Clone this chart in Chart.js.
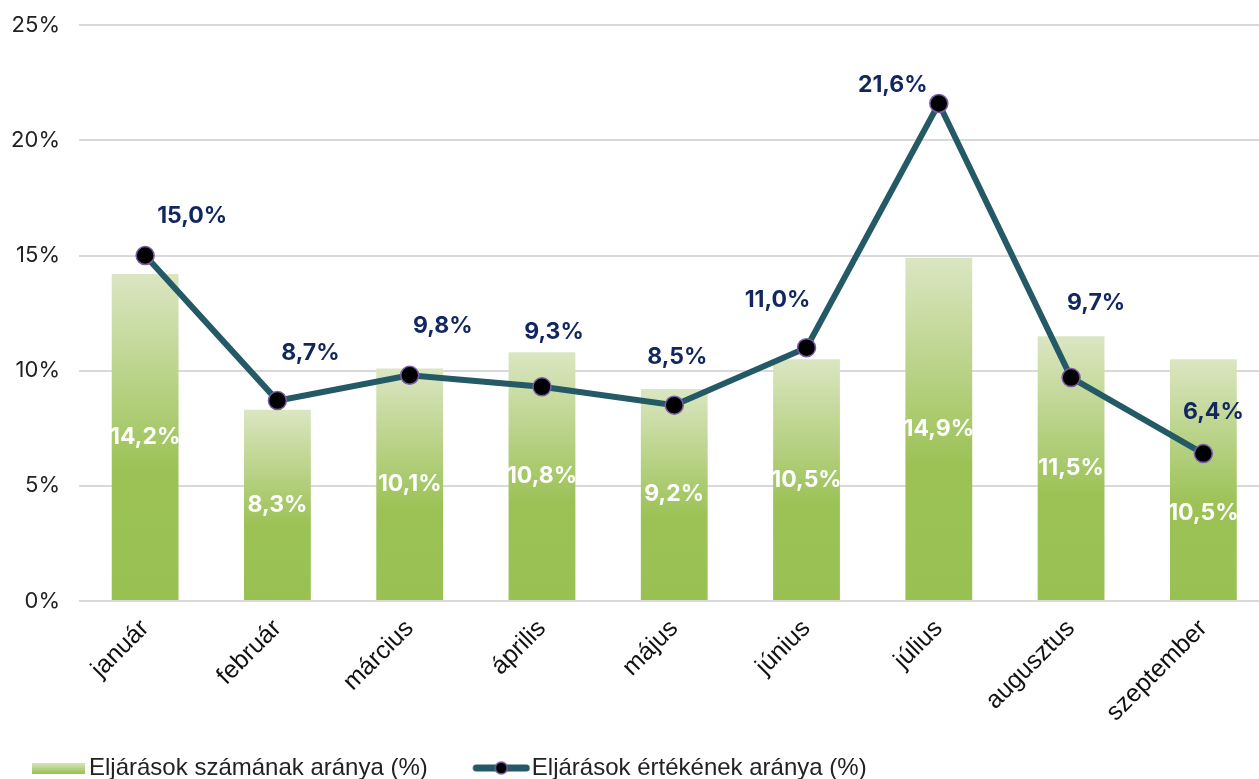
<!DOCTYPE html>
<html>
<head>
<meta charset="utf-8">
<script src="https://cdn.jsdelivr.net/npm/chart.js@4.4.0/dist/chart.umd.min.js"></script>
<style>
  html, body { margin: 0; padding: 0; background: #fff; overflow: hidden; }
  #wrap { width: 1280px; height: 786px; margin-top: -7px; }
</style>
</head>
<body>
<div id="wrap"><canvas id="c_chart"></canvas></div>
<script>
// chart data
const months = ['január', 'február', 'március', 'április', 'május', 'június', 'július', 'augusztus', 'szeptember'];
const countShare = [14.2, 8.3, 10.1, 10.8, 9.2, 10.5, 14.9, 11.5, 10.5];
const valueShare = [15.0, 8.7, 9.8, 9.3, 8.5, 11.0, 21.6, 9.7, 6.4];
const yTicks = [0, 5, 10, 15, 20, 25];
const seriesNames = ['Eljárások számának aránya (%)', 'Eljárások értékének aránya (%)'];

// label offsets (px) for the line values, hand placed like in the original
const lineLabelOffsets = [[47, -39], [33, -48], [33, -49], [12, -55], [3, -48], [-29, -48], [-46, -18], [25, -75], [10, -42]];
const barLabelShift = [0, 0, 0, 0, 0, 0, 0, 0, 33];

const GREEN_TOP = '#dbe6c2';
const GREEN_MID = '#9cc256';
const GREEN_BOT = '#99c152';
const LINE_COLOR = '#245a66';
const POINT_BORDER = '#7b5ea7';
const LABEL_NAVY = '#12275f';

function fmt(v) {
  return v.toFixed(1).replace('.', ',') + '%';
}

function barGradient(context) {
  let chart = context.chart;
  if (!chart.chartArea) return GREEN_BOT;
  let y = chart.scales.y;
  let top = y.getPixelForValue(context.raw);
  let base = y.getPixelForValue(0);
  let g = chart.ctx.createLinearGradient(0, top, 0, base);
  g.addColorStop(0, GREEN_TOP);
  g.addColorStop(0.6, GREEN_MID);
  g.addColorStop(1, GREEN_BOT);
  return g;
}

// legend symbols
function barSymbol() {
  let c = document.createElement('canvas');
  c.width = 61; c.height = 11;
  let ctx = c.getContext('2d');
  let g = ctx.createLinearGradient(0, 0, 0, 11);
  g.addColorStop(0, GREEN_TOP);
  g.addColorStop(1, GREEN_BOT);
  ctx.fillStyle = g;
  ctx.fillRect(8, 0, 53, 11);
  return c;
}

function lineSymbol() {
  let c = document.createElement('canvas');
  c.width = 66; c.height = 16;
  let ctx = c.getContext('2d');
  ctx.strokeStyle = LINE_COLOR;
  ctx.lineWidth = 7;
  ctx.lineCap = 'round';
  ctx.beginPath();
  ctx.moveTo(12, 8);
  ctx.lineTo(62, 8);
  ctx.stroke();
  ctx.beginPath();
  ctx.arc(37, 8, 6, 0, Math.PI * 2);
  ctx.fillStyle = '#000';
  ctx.fill();
  ctx.lineWidth = 1.5;
  ctx.strokeStyle = POINT_BORDER;
  ctx.stroke();
  return c;
}

const legendSymbols = [barSymbol(), lineSymbol()];

const valueLabels = {
  id: 'valueLabels',
  afterLayout(chart) {
    // legend padding is also the gap between items, pull the row back left
    chart.legend.left -= 15;
    chart.legend.right -= 15;
    // let the rotated month names hang below the axis box
    chart.scales.x.bottom += 40;
  },
  afterDatasetDraw(chart, args) {
    if (args.index !== 0) return;
    let ctx = chart.ctx;
    ctx.save();
    ctx.font = 'bold 23px Inter';
    ctx.fillStyle = '#ffffff';
    ctx.textAlign = 'center';
    ctx.textBaseline = 'middle';
    args.meta.data.forEach((bar, i) => {
      let mid = (bar.y + bar.base) / 2 + barLabelShift[i];
      ctx.fillText(fmt(countShare[i]), bar.x, mid);
    });
    ctx.restore();
  },
  afterDatasetsDraw(chart) {
    let meta = chart.getDatasetMeta(1);
    let ctx = chart.ctx;
    ctx.save();
    ctx.font = 'bold 23px Inter';
    ctx.fillStyle = LABEL_NAVY;
    ctx.textAlign = 'center';
    ctx.textBaseline = 'middle';
    meta.data.forEach((pt, i) => {
      let off = lineLabelOffsets[i];
      ctx.fillText(fmt(valueShare[i]), pt.x + off[0], pt.y + off[1]);
    });
    ctx.restore();
  }
};

let ctx = document.getElementById('c_chart').getContext('2d');

new Chart(ctx, {
  data: {
    labels: months,
    datasets: [{
      type: 'bar',
      label: seriesNames[0],
      data: countShare,
      backgroundColor: barGradient,
      borderWidth: 0,
      barPercentage: 0.505,
      categoryPercentage: 1,
      order: 2
    }, {
      type: 'line',
      label: seriesNames[1],
      data: valueShare,
      borderColor: LINE_COLOR,
      borderWidth: 6,
      tension: 0,
      pointRadius: 9,
      pointBackgroundColor: '#000000',
      pointBorderColor: POINT_BORDER,
      pointBorderWidth: 1.5,
      order: 1
    }]
  },
  options: {
    responsive: true,
    maintainAspectRatio: false,
    animation: false,
    layout: { padding: { top: 5, right: 0, left: 0, bottom: -11 } },
    plugins: {
      tooltip: { enabled: false },
      legend: {
        position: 'bottom',
        align: 'start',
        labels: {
          usePointStyle: true,
          pointStyleWidth: 45,
          padding: 47,
          color: '#222',
          font: { family: 'Liberation Sans', size: 24 },
          sort: (a, b) => a.datasetIndex - b.datasetIndex,
          generateLabels(chart) {
            let items = Chart.defaults.plugins.legend.labels.generateLabels(chart);
            items.forEach(it => { it.pointStyle = legendSymbols[it.datasetIndex]; });
            return items;
          }
        }
      }
    },
    scales: {
      x: {
        grid: { display: false },
        border: { display: false },
        ticks: {
          color: '#111',
          font: { family: 'Liberation Sans', size: 25 },
          minRotation: 45,
          maxRotation: 45,
          padding: 5
        },
        afterFit(scale) { scale.height = 108; }
      },
      y: {
        min: 0,
        max: 25,
        afterBuildTicks(scale) { scale.ticks = yTicks.map(v => ({ value: v })); },
        grid: { color: '#d9d9d9', lineWidth: 2, drawTicks: false },
        border: { display: false },
        ticks: {
          color: '#222',
          font: { family: 'Inter', size: 22 },
          padding: 19,
          callback: v => v + '%'
        },
        afterFit(scale) { scale.width = 79; }
      }
    }
  },
  plugins: [valueLabels]
});
</script>
</body>
</html>
